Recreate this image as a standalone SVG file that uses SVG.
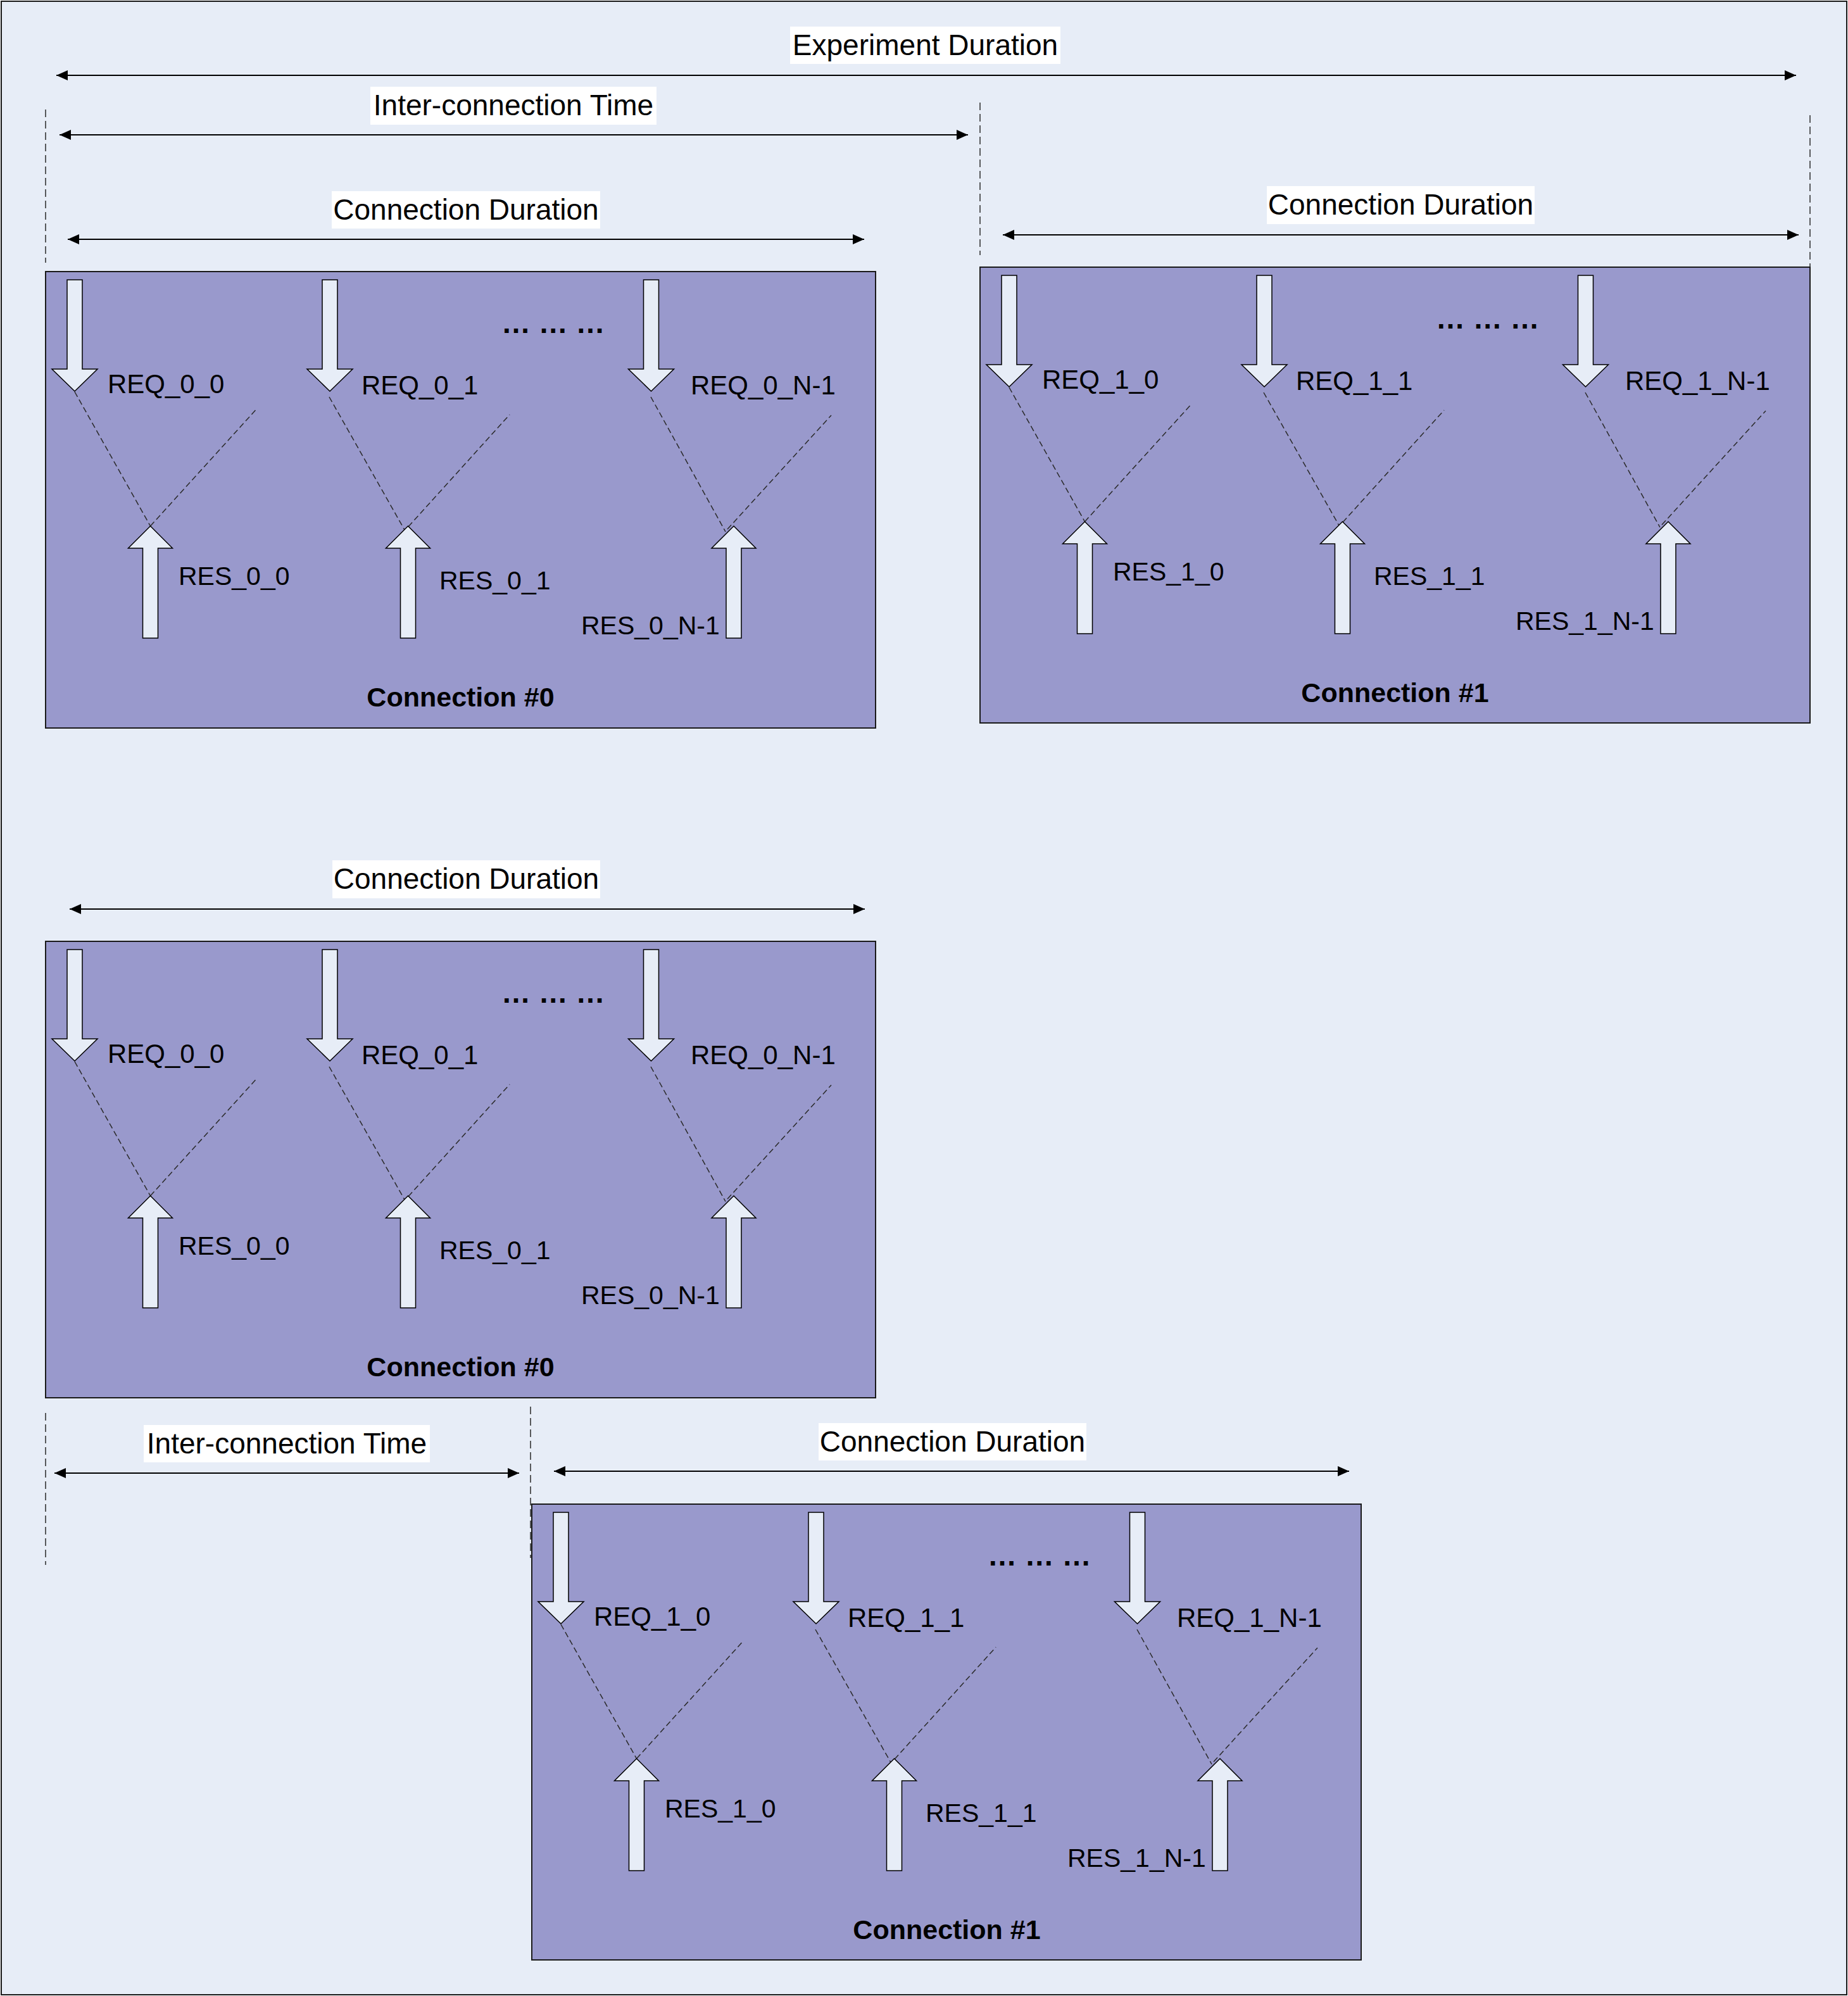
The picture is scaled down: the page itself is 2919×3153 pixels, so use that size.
<svg xmlns="http://www.w3.org/2000/svg" width="2919" height="3153" viewBox="0 0 2919 3153">
<style>
.bg{fill:#E7EDF7;stroke:#1a1a1a;stroke-width:2}
.box{fill:#9999CC;stroke:#1a1a1a;stroke-width:2}
.arw{fill:#E7EDF7;stroke:#000;stroke-width:1.5;stroke-linejoin:miter}
.dash{fill:none;stroke:#2a2a2a;stroke-width:1.5;stroke-dasharray:9 5}
.vdash{fill:none;stroke:#2a2a2a;stroke-width:1.5;stroke-dasharray:12 6}
.dim{fill:none;stroke:#000;stroke-width:2;marker-start:url(#ah);marker-end:url(#ah)}
.lblbg{fill:#FFFFFF}
.t{font-family:"Liberation Sans",Arial,sans-serif;fill:#000}
.dimt{font-size:46px;text-anchor:middle}
.lab{font-size:42px}
.labr{font-size:41px}
.dots{font-size:46px;font-weight:bold}
.title{font-size:43px;font-weight:bold;text-anchor:middle}
</style>
<defs>
<marker id="ah" markerUnits="userSpaceOnUse" viewBox="0 0 18 16" markerWidth="18" markerHeight="16" refX="18" refY="8" orient="auto-start-reverse"><path d="M0,0 L18,8 L0,16 Z" fill="#000"/></marker>
<path id="req" class="arw" d="M-12,13 H12 V154 H36 L0,189 L-36,154 H-12 Z"/>
<path id="res" class="arw" d="M0,402 L35,437 H12 V579 H-12 V437 H-35 Z"/>
<g id="flows">
<line class="dash" x1="46" y1="190" x2="165.5" y2="402"/>
<line class="dash" x1="165.5" y1="402" x2="331.5" y2="219"/>
<line class="dash" x1="448" y1="198" x2="567" y2="408"/>
<line class="dash" x1="573" y1="403" x2="733" y2="226"/>
<line class="dash" x1="956" y1="198" x2="1074" y2="411"/>
<line class="dash" x1="1077" y1="407" x2="1241" y2="227"/>
<use href="#req" x="46"/>
<use href="#req" x="449"/>
<use href="#req" x="956.5"/>
<use href="#res" x="165.5"/>
<use href="#res" x="572.5"/>
<use href="#res" x="1087"/>
</g>
</defs>

<rect id="background" class="bg" x="2" y="2" width="2915" height="3149"/>

<g id="connection-0-top" transform="translate(72,429)">
<rect class="box" x="0" y="0" width="1311" height="721"/>
<use href="#flows"/>
<text class="t dots" x="720" y="97">… … …</text>
<text class="t lab" x="98" y="192">REQ_0_0</text>
<text class="t lab" x="499" y="194">REQ_0_1</text>
<text class="t lab" x="1019" y="194">REQ_0_N-1</text>
<text class="t labr" x="210" y="495">RES_0_0</text>
<text class="t labr" x="622" y="502">RES_0_1</text>
<text class="t labr" x="846" y="573">RES_0_N-1</text>
<text class="t title" x="655.5" y="687">Connection #0</text>
</g>

<g id="connection-1-top" transform="translate(1548,422)">
<rect class="box" x="0" y="0" width="1311" height="720"/>
<use href="#flows"/>
<text class="t dots" x="720" y="97">… … …</text>
<text class="t lab" x="98" y="192">REQ_1_0</text>
<text class="t lab" x="499" y="194">REQ_1_1</text>
<text class="t lab" x="1019" y="194">REQ_1_N-1</text>
<text class="t labr" x="210" y="495">RES_1_0</text>
<text class="t labr" x="622" y="502">RES_1_1</text>
<text class="t labr" x="846" y="573">RES_1_N-1</text>
<text class="t title" x="655.5" y="687">Connection #1</text>
</g>

<g id="connection-0-bottom" transform="translate(72,1487)">
<rect class="box" x="0" y="0" width="1311" height="721"/>
<use href="#flows"/>
<text class="t dots" x="720" y="97">… … …</text>
<text class="t lab" x="98" y="192">REQ_0_0</text>
<text class="t lab" x="499" y="194">REQ_0_1</text>
<text class="t lab" x="1019" y="194">REQ_0_N-1</text>
<text class="t labr" x="210" y="495">RES_0_0</text>
<text class="t labr" x="622" y="502">RES_0_1</text>
<text class="t labr" x="846" y="573">RES_0_N-1</text>
<text class="t title" x="655.5" y="687">Connection #0</text>
</g>

<g id="connection-1-bottom" transform="translate(840,2376)">
<rect class="box" x="0" y="0" width="1310" height="720"/>
<use href="#flows"/>
<text class="t dots" x="720" y="97">… … …</text>
<text class="t lab" x="98" y="192">REQ_1_0</text>
<text class="t lab" x="499" y="194">REQ_1_1</text>
<text class="t lab" x="1019" y="194">REQ_1_N-1</text>
<text class="t labr" x="210" y="495">RES_1_0</text>
<text class="t labr" x="622" y="502">RES_1_1</text>
<text class="t labr" x="846" y="573">RES_1_N-1</text>
<text class="t title" x="655.5" y="687">Connection #1</text>
</g>

<g id="connectors">
<line class="dim" x1="89" y1="119" x2="2837" y2="119"/>
<line class="dim" x1="94" y1="213" x2="1529" y2="213"/>
<line class="dim" x1="107" y1="378" x2="1365" y2="378"/>
<line class="dim" x1="1584" y1="371" x2="2841" y2="371"/>
<line class="dim" x1="110" y1="1436" x2="1366" y2="1436"/>
<line class="dim" x1="86" y1="2327" x2="820" y2="2327"/>
<line class="dim" x1="875" y1="2324" x2="2131" y2="2324"/>
<line class="vdash" x1="72" y1="173" x2="72" y2="415"/>
<line class="vdash" x1="1548" y1="162" x2="1548" y2="403"/>
<line class="vdash" x1="2859" y1="182" x2="2859" y2="422"/>
<line class="vdash" x1="72" y1="2232" x2="72" y2="2472"/>
<line class="vdash" x1="838" y1="2222" x2="838" y2="2461"/>
</g>

<g id="label-experiment-duration">
<rect class="lblbg" x="1248" y="42" width="427" height="59"/>
<text class="t dimt" x="1461.5" y="87">Experiment Duration</text>
</g>
<g id="label-inter-connection-top">
<rect class="lblbg" x="585" y="137" width="452" height="60"/>
<text class="t dimt" x="811" y="182">Inter-connection Time</text>
</g>
<g id="label-connection-duration-0-top">
<rect class="lblbg" x="524" y="302" width="424" height="59"/>
<text class="t dimt" x="736" y="347">Connection Duration</text>
</g>
<g id="label-connection-duration-1-top">
<rect class="lblbg" x="2001" y="294" width="423" height="60"/>
<text class="t dimt" x="2212.5" y="339">Connection Duration</text>
</g>
<g id="label-connection-duration-0-bottom">
<rect class="lblbg" x="525" y="1359" width="423" height="60"/>
<text class="t dimt" x="736.5" y="1404">Connection Duration</text>
</g>
<g id="label-inter-connection-bottom">
<rect class="lblbg" x="227" y="2251" width="452" height="59"/>
<text class="t dimt" x="453" y="2296">Inter-connection Time</text>
</g>
<g id="label-connection-duration-1-bottom">
<rect class="lblbg" x="1293" y="2248" width="423" height="59"/>
<text class="t dimt" x="1504.5" y="2293">Connection Duration</text>
</g>
</svg>
